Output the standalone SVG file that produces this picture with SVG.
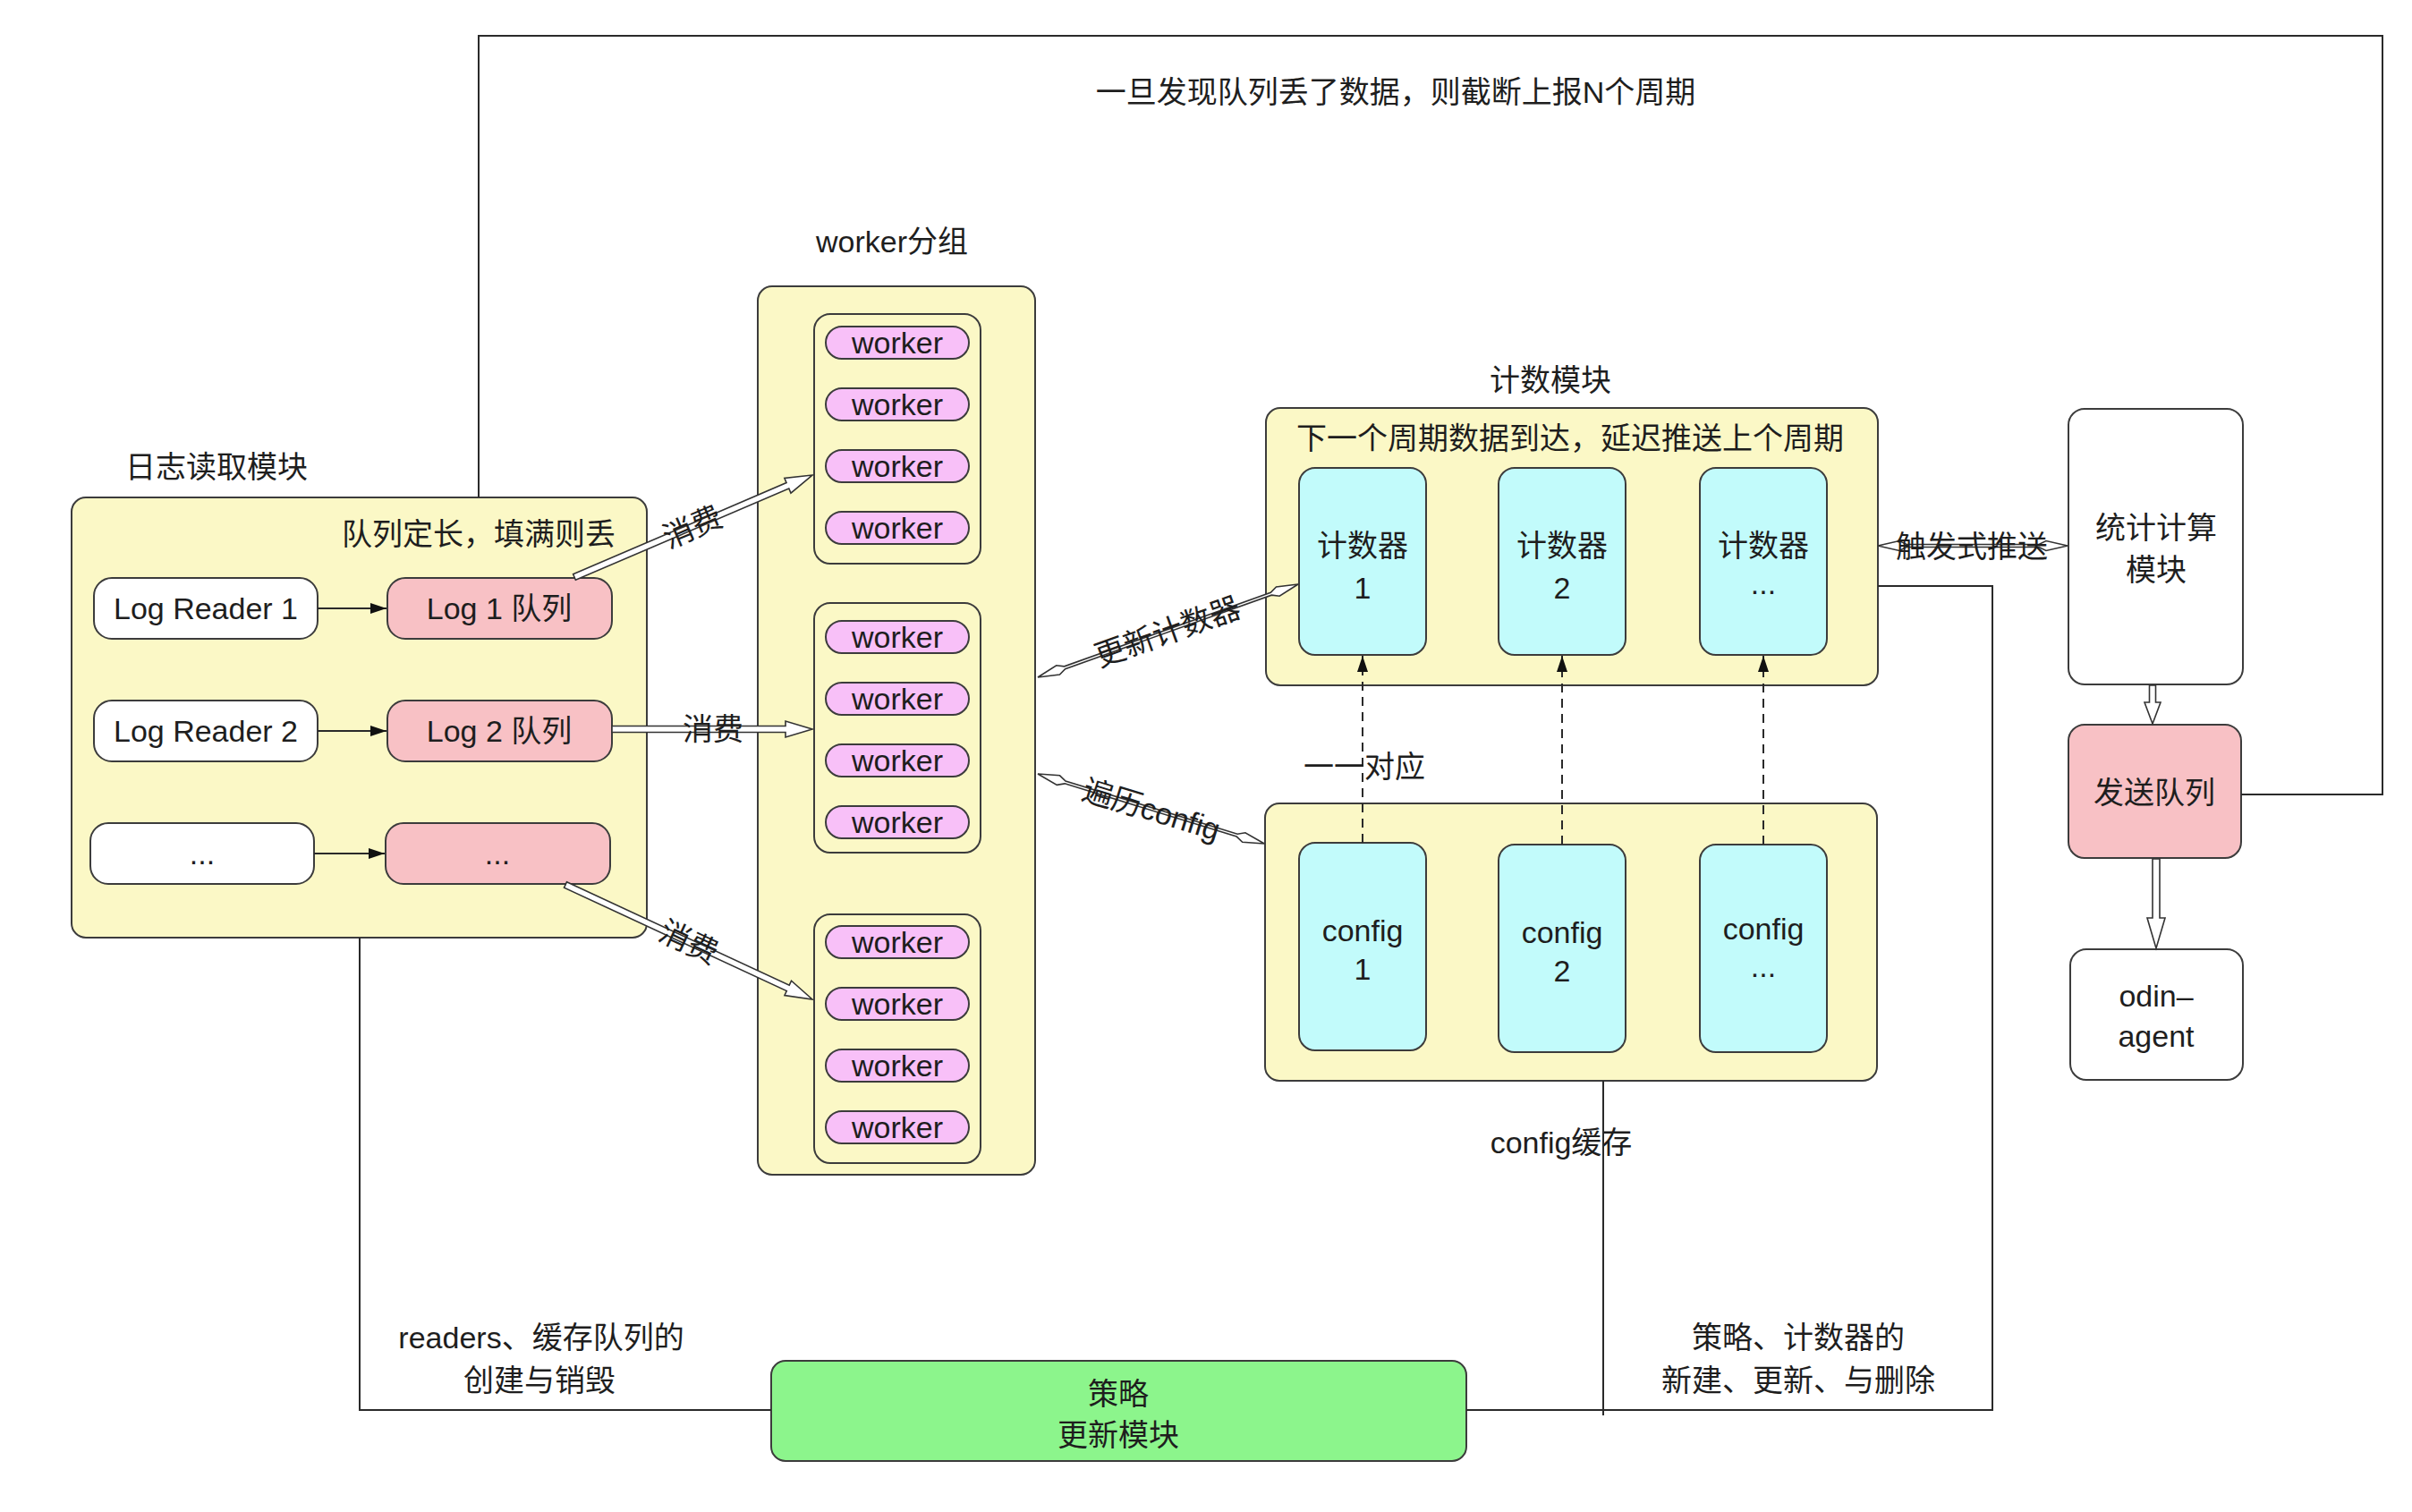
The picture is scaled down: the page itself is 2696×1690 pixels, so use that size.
<svg xmlns="http://www.w3.org/2000/svg" width="2696" height="1690" viewBox="0 0 2696 1690">
<style>
text{font-family:"Liberation Sans","Noto Sans CJK SC",sans-serif;font-size:34px;fill:#1e1e1e;text-anchor:middle;dominant-baseline:central}
.mod{fill:#fbf8c6;stroke:#3c3c3c;stroke-width:2}
.wht{fill:#ffffff;stroke:#3c3c3c;stroke-width:2}
.pnk{fill:#f8c1c5;stroke:#3c3c3c;stroke-width:2}
.wrk{fill:#f8c0f8;stroke:#3c3c3c;stroke-width:2}
.cyn{fill:#c2fbfb;stroke:#3c3c3c;stroke-width:2}
.grn{fill:#8cf58c;stroke:#3c3c3c;stroke-width:2}
.ln{fill:none;stroke:#2a2a2a;stroke-width:2}
.ds{fill:none;stroke:#2a2a2a;stroke-width:2;stroke-dasharray:10 7}
.ha{fill:#ffffff;stroke:#333333;stroke-width:1.6;stroke-linejoin:miter}
</style>
<defs>
<marker id="tri" markerUnits="userSpaceOnUse" markerWidth="18" markerHeight="12" refX="18" refY="6" viewBox="0 0 18 12" orient="auto">
<path d="M0,0 L18,6 L0,12 z" fill="#111111"/>
</marker>
</defs>
<rect width="2696" height="1690" fill="#ffffff"/>

<g id="log-module">
<text x="242" y="522">日志读取模块</text>
<rect class="mod" x="80" y="556" width="643" height="492" rx="16"/>
<text x="535" y="597">队列定长，填满则丢</text>
</g>
<g id="log-reader-1"><rect class="wht" x="105" y="646" width="250" height="68" rx="20"/><text x="230" y="680">Log Reader 1</text></g>
<g id="log-queue-1"><rect class="pnk" x="433" y="646" width="251" height="68" rx="20"/><text x="558" y="680">Log 1 队列</text></g>
<g id="log-reader-2"><rect class="wht" x="105" y="783" width="250" height="68" rx="20"/><text x="230" y="817">Log Reader 2</text></g>
<g id="log-queue-2"><rect class="pnk" x="433" y="783" width="251" height="68" rx="20"/><text x="558" y="817">Log 2 队列</text></g>
<g id="log-reader-n"><rect class="wht" x="101" y="920" width="250" height="68" rx="20"/><text x="226" y="954">...</text></g>
<g id="log-queue-n"><rect class="pnk" x="431" y="920" width="251" height="68" rx="20"/><text x="556" y="954">...</text></g>

<g id="worker-group">
<text x="997" y="270">worker分组</text>
<rect class="mod" x="847" y="320" width="310" height="993" rx="16"/>
</g>
<g id="worker-subgroup-1">
<rect class="mod" x="910" y="351" width="186" height="279" rx="18"/>
<rect class="wrk" x="923" y="365" width="160" height="36" rx="18"/><text x="1003" y="383">worker</text>
<rect class="wrk" x="923" y="434" width="160" height="36" rx="18"/><text x="1003" y="452">worker</text>
<rect class="wrk" x="923" y="503" width="160" height="36" rx="18"/><text x="1003" y="521">worker</text>
<rect class="wrk" x="923" y="572" width="160" height="36" rx="18"/><text x="1003" y="590">worker</text>
</g>
<g id="worker-subgroup-2">
<rect class="mod" x="910" y="674" width="186" height="279" rx="18"/>
<rect class="wrk" x="923" y="694" width="160" height="36" rx="18"/><text x="1003" y="712">worker</text>
<rect class="wrk" x="923" y="763" width="160" height="36" rx="18"/><text x="1003" y="781">worker</text>
<rect class="wrk" x="923" y="832" width="160" height="36" rx="18"/><text x="1003" y="850">worker</text>
<rect class="wrk" x="923" y="901" width="160" height="36" rx="18"/><text x="1003" y="919">worker</text>
</g>
<g id="worker-subgroup-3">
<rect class="mod" x="910" y="1022" width="186" height="278" rx="18"/>
<rect class="wrk" x="923" y="1035" width="160" height="36" rx="18"/><text x="1003" y="1053">worker</text>
<rect class="wrk" x="923" y="1104" width="160" height="36" rx="18"/><text x="1003" y="1122">worker</text>
<rect class="wrk" x="923" y="1173" width="160" height="36" rx="18"/><text x="1003" y="1191">worker</text>
<rect class="wrk" x="923" y="1242" width="160" height="36" rx="18"/><text x="1003" y="1260">worker</text>
</g>

<g id="counter-module">
<text x="1733" y="425">计数模块</text>
<rect class="mod" x="1415" y="456" width="684" height="310" rx="16"/>
<text x="1755" y="490">下一个周期数据到达，延迟推送上个周期</text>
</g>
<g id="counter-1"><rect class="cyn" x="1452" y="523" width="142" height="209" rx="18"/><text x="1523" y="610">计数器</text><text x="1523" y="657">1</text></g>
<g id="counter-2"><rect class="cyn" x="1675" y="523" width="142" height="209" rx="18"/><text x="1746" y="610">计数器</text><text x="1746" y="657">2</text></g>
<g id="counter-n"><rect class="cyn" x="1900" y="523" width="142" height="209" rx="18"/><text x="1971" y="610">计数器</text><text x="1971" y="652">...</text></g>

<g id="config-cache">
<rect class="mod" x="1414" y="898" width="684" height="310" rx="16"/>
<text x="1745" y="1277">config缓存</text>
</g>
<g id="config-1"><rect class="cyn" x="1452" y="942" width="142" height="232" rx="18"/><text x="1523" y="1040">config</text><text x="1523" y="1083">1</text></g>
<g id="config-2"><rect class="cyn" x="1675" y="944" width="142" height="232" rx="18"/><text x="1746" y="1042">config</text><text x="1746" y="1085">2</text></g>
<g id="config-n"><rect class="cyn" x="1900" y="944" width="142" height="232" rx="18"/><text x="1971" y="1038">config</text><text x="1971" y="1080">...</text></g>

<g id="stats-module"><rect class="wht" x="2312" y="457" width="195" height="308" rx="18"/><text x="2410" y="590">统计计算</text><text x="2410" y="637">模块</text></g>
<g id="send-queue"><rect class="pnk" x="2312" y="810" width="193" height="149" rx="18"/><text x="2408" y="886">发送队列</text></g>
<g id="odin-agent"><rect class="wht" x="2314" y="1061" width="193" height="146" rx="18"/><text x="2410" y="1113">odin–</text><text x="2410" y="1158">agent</text></g>

<g id="policy-module"><rect class="grn" x="862" y="1521" width="777" height="112" rx="16"/><text x="1250" y="1558">策略</text><text x="1250" y="1604">更新模块</text></g>

<g id="connectors">
<path class="ln" d="M2505,888 H2663 V40 H535 V556"/>
<path class="ln" d="M402,1048 V1576 H862"/>
<path class="ln" d="M1639,1576 H2227 V655 H2099"/>
<path class="ln" d="M1792,1208 V1582"/>
<path class="ln" d="M355,680 H432" marker-end="url(#tri)"/>
<path class="ln" d="M355,817 H432" marker-end="url(#tri)"/>
<path class="ln" d="M351,954 H430" marker-end="url(#tri)"/>
<path class="ds" d="M1523,942 V733" marker-end="url(#tri)"/>
<path class="ds" d="M1746,944 V733" marker-end="url(#tri)"/>
<path class="ds" d="M1971,944 V733" marker-end="url(#tri)"/>
<polygon class="ha" transform="translate(642,645) rotate(-23.2)" points="0,-3.5 259.4,-3.5 259.4,-9 289.4,0 259.4,9 259.4,3.5 0,3.5"/>
<polygon class="ha" transform="translate(684,815)" points="0,-3.5 194,-3.5 194,-9 224,0 194,9 194,3.5 0,3.5"/>
<polygon class="ha" transform="translate(632,989) rotate(24.88)" points="0,-3.5 274.2,-3.5 274.2,-9 304.2,0 274.2,9 274.2,3.5 0,3.5"/>
<polygon class="ha" transform="translate(1160,757) rotate(-19.67)" points="0,0 24,-5.5 32,-1.5 277,-1.5 285,-5.5 309,0 285,5.5 277,1.5 32,1.5 24,5.5"/>
<polygon class="ha" transform="translate(1160,865) rotate(17.13)" points="0,0 24,-5.5 32,-1.5 233,-1.5 241,-5.5 265,0 241,5.5 233,1.5 32,1.5 24,5.5"/>
<polygon class="ha" transform="translate(2099,610)" points="0,0 24,-5.5 32,-1.5 180,-1.5 188,-5.5 212,0 188,5.5 180,1.5 32,1.5 24,5.5"/>
<polygon class="ha" transform="translate(2406,766) rotate(90)" points="0,-3.5 19,-3.5 19,-9 43,0 19,9 19,3.5 0,3.5"/>
<polygon class="ha" transform="translate(2410,960) rotate(90)" points="0,-4 66,-4 66,-10 100,0 66,10 66,4 0,4"/>
<text transform="translate(774,589) rotate(-23.2)">消费</text>
<text x="797" y="815">消费</text>
<text transform="translate(770,1053) rotate(24.88)">消费</text>
<text transform="translate(1305,706) rotate(-19.67)">更新计数器</text>
<text transform="translate(1287,905) rotate(17.13)">遍历config</text>
<text x="2204" y="611">触发式推送</text>
<text x="1525" y="857">一一对应</text>
<text x="1560" y="103">一旦发现队列丢了数据，则截断上报N个周期</text>
<text x="605" y="1495">readers、缓存队列的</text>
<text x="603" y="1543">创建与销毁</text>
<text x="2010" y="1495">策略、计数器的</text>
<text x="2010" y="1543">新建、更新、与删除</text>
</g>
</svg>
